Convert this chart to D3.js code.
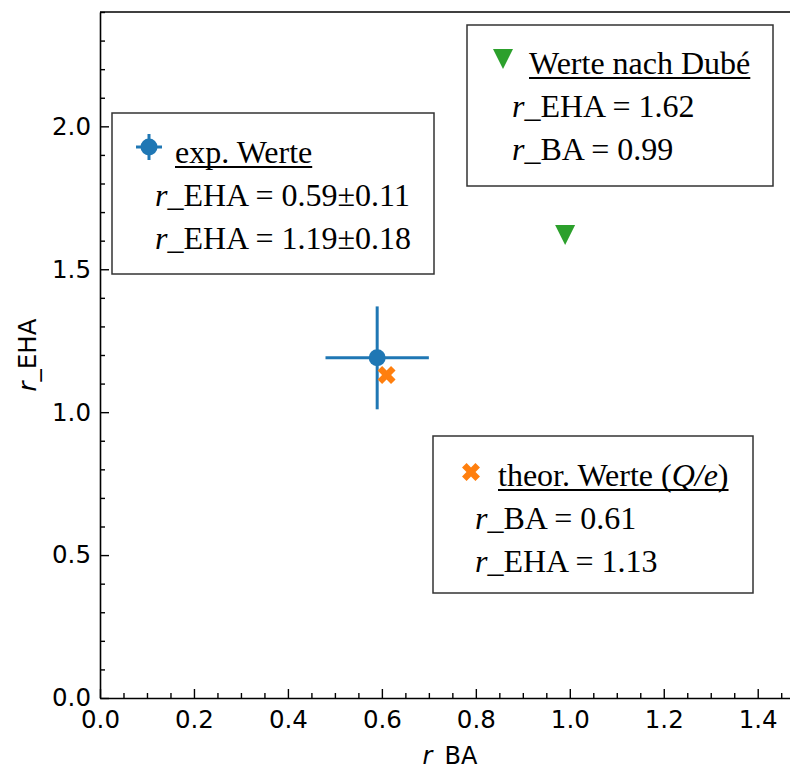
<!DOCTYPE html>
<html>
<head>
<meta charset="utf-8">
<script src="https://cdn.jsdelivr.net/npm/d3@7"></script>
<style>
  html, body { margin: 0; padding: 0; background: #fff; }
  svg { display: block; }
</style>
</head>
<body>
<svg id="chart" width="790" height="767"></svg>
<script>
// Measured ratios r_BA (x) and r_EHA (y)
const seriesNames = ["exp. Werte", "Werte nach Dubé", "theor. Werte"];
const rBA = [0.59, 0.99, 0.61];
const rEHA = [1.19, 1.62, 1.13];
const rBAErr = [0.11, 0, 0];
const rEHAErr = [0.18, 0, 0];
const seriesColors = ["#1f77b4", "#2ca02c", "#ff7f0e"];

const xTicks = [0.0, 0.2, 0.4, 0.6, 0.8, 1.0, 1.2, 1.4];
const yTicks = [0.0, 0.5, 1.0, 1.5, 2.0];
const xMinorTicks = d3.range(0, 30).map(i => i * 0.05);
const yMinorTicks = d3.range(0, 25).map(i => i * 0.1);

// Legend text per series: value lines below each title
const legendLines = [
  [["r", "_EHA = 0.59±0.11"], ["r", "_EHA = 1.19±0.18"]],
  [["r", "_EHA = 1.62"], ["r", "_BA = 0.99"]],
  [["r", "_BA = 0.61"], ["r", "_EHA = 1.13"]]
];

const svg = d3.select("#chart");
const plotLeft = 100, plotRight = 800, plotTop = 12, plotBottom = 698;

const x = d3.scaleLinear().domain([0, 1.49]).range([plotLeft, plotRight]);
const y = d3.scaleLinear().domain([0, 2.4]).range([plotBottom, plotTop]);

const tickFont = "'DejaVu Sans', sans-serif";
const serif = "'Liberation Serif', 'Times New Roman', serif";

// ---- axes ----
const isMajor = (v, step) => Math.abs(v / step - Math.round(v / step)) < 1e-6;

svg.append("g").attr("transform", `translate(0,${plotBottom})`)
  .call(d3.axisBottom(x).tickValues(xTicks).tickFormat(d3.format(".1f"))
    .tickSizeInner(-9).tickSizeOuter(0).tickPadding(13));
svg.append("g").attr("transform", `translate(0,${plotBottom})`)
  .call(d3.axisBottom(x).tickValues(xMinorTicks.filter(v => !isMajor(v, 0.2)))
    .tickFormat("").tickSizeInner(-5).tickSizeOuter(0))
  .call(g => g.select(".domain").remove());

svg.append("g").attr("transform", `translate(${plotLeft},0)`)
  .call(d3.axisLeft(y).tickValues(yTicks).tickFormat(d3.format(".1f"))
    .tickSizeInner(-9).tickSizeOuter(0).tickPadding(9));
svg.append("g").attr("transform", `translate(${plotLeft},0)`)
  .call(d3.axisLeft(y).tickValues(yMinorTicks.filter(v => !isMajor(v, 0.5)))
    .tickFormat("").tickSizeInner(-5).tickSizeOuter(0))
  .call(g => g.select(".domain").remove());

svg.selectAll(".tick line").attr("stroke", "#000").attr("stroke-width", 1.4);
svg.selectAll(".domain").attr("stroke", "#000").attr("stroke-width", 1.6);
svg.selectAll(".tick text").attr("font-family", tickFont).attr("font-size", 24.5).attr("fill", "#000");

// top and right spines
svg.append("line").attr("x1", plotLeft).attr("x2", plotRight).attr("y1", plotTop).attr("y2", plotTop)
  .attr("stroke", "#000").attr("stroke-width", 1.6);
svg.append("line").attr("x1", plotRight).attr("x2", plotRight).attr("y1", plotTop).attr("y2", plotBottom)
  .attr("stroke", "#000").attr("stroke-width", 1.6);

// axis labels
const xl = svg.append("text").attr("x", (plotLeft + plotRight) / 2).attr("y", 764)
  .attr("text-anchor", "middle").attr("font-family", tickFont).attr("font-size", 24);
xl.append("tspan").attr("font-style", "italic").text("r");
xl.append("tspan").text("_BA");

const yl = svg.append("text").attr("transform", `translate(36,${(plotTop + plotBottom) / 2}) rotate(-90)`)
  .attr("text-anchor", "middle").attr("font-family", tickFont).attr("font-size", 24.5);
yl.append("tspan").attr("font-style", "italic").text("r");
yl.append("tspan").text("_EHA");

// ---- marker shapes ----
function xMarkerPath(a, b) {
  const pts = [[b, a], [b, b], [a, b], [a, -b], [b, -b], [b, -a], [-b, -a], [-b, -b], [-a, -b], [-a, b], [-b, b], [-b, a]];
  const c = Math.SQRT1_2;
  return "M" + pts.map(([px, py]) => [(px - py) * c, (px + py) * c].map(v => v.toFixed(2)).join(",")).join("L") + "Z";
}
function triDownPath(r) {
  return `M${-r},${-r}L${r},${-r}L0,${r}Z`;
}

function drawMarker(g, i, cx, cy, withBars) {
  if (i === 0) {
    if (withBars) {
      g.append("line").attr("x1", cx - 13).attr("x2", cx + 13).attr("y1", cy).attr("y2", cy)
        .attr("stroke", seriesColors[0]).attr("stroke-width", 3);
      g.append("line").attr("x1", cx).attr("x2", cx).attr("y1", cy - 13).attr("y2", cy + 13)
        .attr("stroke", seriesColors[0]).attr("stroke-width", 3);
    }
    g.append("circle").attr("cx", cx).attr("cy", cy).attr("r", 8.5).attr("fill", seriesColors[0]);
  } else if (i === 1) {
    g.append("path").attr("transform", `translate(${cx},${cy})`).attr("d", triDownPath(10))
      .attr("fill", seriesColors[1]);
  } else {
    g.append("path").attr("transform", `translate(${cx},${cy})`).attr("d", xMarkerPath(9.5, 3.2))
      .attr("fill", seriesColors[2]);
  }
}

// ---- data marks ----
const plot = svg.append("g");
// error bars for the measured point
rBA.forEach((v, i) => {
  if (rBAErr[i] > 0) {
    plot.append("line").attr("x1", x(v - rBAErr[i])).attr("x2", x(v + rBAErr[i]))
      .attr("y1", y(rEHA[i])).attr("y2", y(rEHA[i]))
      .attr("stroke", seriesColors[i]).attr("stroke-width", 3);
  }
  if (rEHAErr[i] > 0) {
    plot.append("line").attr("x1", x(v)).attr("x2", x(v))
      .attr("y1", y(rEHA[i] - rEHAErr[i])).attr("y2", y(rEHA[i] + rEHAErr[i]))
      .attr("stroke", seriesColors[i]).attr("stroke-width", 3);
  }
});
rBA.forEach((v, i) => drawMarker(plot, i, x(v), y(rEHA[i]), false));

// ---- legend boxes ----
const legendLayout = [
  { box: [112, 113, 322, 161], marker: [149, 147], titleX: 175, lineX: 155, base: 163 },
  { box: [467, 25, 306, 161], marker: [503, 59], titleX: 529, lineX: 512, base: 74 },
  { box: [433, 436, 320, 157], marker: [471, 472], titleX: 498, lineX: 475, base: 486 }
];
const lineGap = 43;

legendLayout.forEach((L, i) => {
  const g = svg.append("g");
  g.append("rect").attr("x", L.box[0]).attr("y", L.box[1]).attr("width", L.box[2]).attr("height", L.box[3])
    .attr("fill", "#fff").attr("fill-opacity", 0.85).attr("stroke", "#333").attr("stroke-width", 1.5);
  drawMarker(g, i, L.marker[0], L.marker[1], true);

  const title = g.append("text").attr("x", L.titleX).attr("y", L.base)
    .attr("font-family", serif).attr("font-size", 32).attr("fill", "#000");
  if (i === 2) {
    title.append("tspan").text(seriesNames[i] + " (");
    title.append("tspan").attr("font-style", "italic").text("Q/e");
    title.append("tspan").text(")");
  } else {
    title.text(seriesNames[i]);
  }
  const w = title.node().getComputedTextLength();
  g.append("line").attr("x1", L.titleX).attr("x2", L.titleX + w)
    .attr("y1", L.base + 4).attr("y2", L.base + 4).attr("stroke", "#000").attr("stroke-width", 2);

  legendLines[i].forEach((parts, k) => {
    const t = g.append("text").attr("x", L.lineX).attr("y", L.base + lineGap * (k + 1))
      .attr("font-family", serif).attr("font-size", 32).attr("fill", "#000");
    t.append("tspan").attr("font-style", "italic").text(parts[0]);
    t.append("tspan").text(parts[1]);
  });
});
</script>
</body>
</html>
